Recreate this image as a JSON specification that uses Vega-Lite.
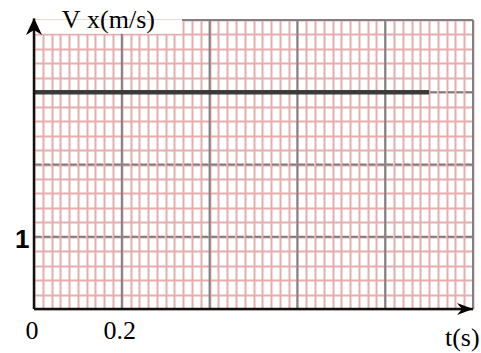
{
  "$schema": "https://vega.github.io/schema/vega-lite/v6.json",
  "width": 439,
  "height": 289,
  "autosize": {"type": "none"},
  "padding": {"left": 34, "top": 20, "right": 8, "bottom": 44},
  "background": "white",
  "config": {"view": {"stroke": null}},
  "datasets": {
    "majorH": [{"t": 0, "t2": 1, "v": 1}, {"t": 0, "t2": 1, "v": 2}, {"t": 0, "t2": 1, "v": 3}],
    "majorV": [
      {"t": 0.2, "v": 0, "v2": 4}, {"t": 0.4, "v": 0, "v2": 4}, {"t": 0.6, "v": 0, "v2": 4},
      {"t": 0.8, "v": 0, "v2": 4}, {"t": 1.0, "v": 0, "v2": 4}
    ],
    "blank": [{"t": 0, "t2": 0.3375, "v": 3.81, "v2": 4}],
    "border": [{"t": 0.3375, "t2": 1, "v": 4}],
    "motion": [{"t": 0, "v": 3}, {"t": 0.9, "v": 3}],
    "axisLines": [{"t": 0, "t2": 1, "v": 0, "v2": 0}, {"t": 0, "t2": 0, "v": 0, "v2": 4.02}],
    "arrows": [{"t": 0, "v": 4, "dir": "up"}, {"t": 1, "v": 0, "dir": "right"}],
    "texts": [
      {"label": "V", "t": 0.063, "v": 3.896, "style": "normal"},
      {"label": "x", "t": 0.121, "v": 3.896, "style": "italic"},
      {"label": "(m/s)", "t": 0.1504, "v": 3.896, "style": "normal"},
      {"label": "t(s)", "t": 0.936, "v": -0.51, "style": "normal"}
    ]
  },
  "encoding": {
    "x": {
      "field": "t", "type": "quantitative",
      "scale": {"domain": [0, 1], "nice": false},
      "axis": {
        "title": null, "tickCount": 50, "grid": true, "gridColor": "#e6adad", "gridWidth": 2, "gridOpacity": 1,
        "domain": false, "ticks": false, "tickSize": 0,
        "labelExpr": "datum.value === 0 ? '0' : (abs(datum.value - 0.2) < 0.001 ? '0.2' : '')",
        "labelOverlap": false, "labelFlush": false, "labelAlign": "center",
        "labelBaseline": "alphabetic", "labelPadding": 29.5, "labelOffset": -2.5,
        "labelFont": "Liberation Serif", "labelFontSize": 26, "labelColor": "#000000"
      }
    },
    "y": {
      "field": "v", "type": "quantitative",
      "scale": {"domain": [0, 4], "nice": false},
      "axis": {
        "title": null, "tickCount": 20, "grid": true, "gridColor": "#e6adad", "gridWidth": 2, "gridOpacity": 1,
        "domain": false, "ticks": false, "tickSize": 0,
        "labelExpr": "abs(datum.value - 1) < 0.001 ? '1' : ''",
        "labelOverlap": false, "labelFlush": false, "labelAlign": "right", "labelBaseline": "alphabetic",
        "labelPadding": 5, "labelOffset": 11,
        "labelFont": "Liberation Sans", "labelFontWeight": "bold", "labelFontSize": 26, "labelColor": "#000000"
      }
    }
  },
  "layer": [
    {
      "data": {"name": "majorH"},
      "mark": {"type": "rule", "color": "#7c7c7c", "strokeWidth": 2, "strokeDash": [6.78, 2], "strokeDashOffset": 7.78},
      "encoding": {"x2": {"field": "t2"}}
    },
    {
      "data": {"name": "majorV"},
      "mark": {"type": "rule", "color": "#808080", "strokeWidth": 2},
      "encoding": {"y2": {"field": "v2"}}
    },
    {
      "data": {"name": "blank"},
      "mark": {"type": "rect", "color": "white", "opacity": 1},
      "encoding": {"x2": {"field": "t2"}, "y2": {"field": "v2"}}
    },
    {
      "data": {"name": "border"},
      "mark": {"type": "rule", "color": "#808080", "strokeWidth": 2},
      "encoding": {"x2": {"field": "t2"}}
    },
    {
      "data": {"name": "motion"},
      "mark": {"type": "line", "color": "#353535", "strokeWidth": 4.5, "opacity": 0.95},
      "encoding": {}
    },
    {
      "data": {"name": "axisLines"},
      "mark": {"type": "rule", "color": "#111111", "strokeWidth": 2.5},
      "encoding": {"x2": {"field": "t2"}, "y2": {"field": "v2"}}
    },
    {
      "data": {"name": "arrows"},
      "mark": {"type": "point", "filled": true, "color": "#000000", "opacity": 1, "size": 4, "strokeWidth": 0},
      "encoding": {
        "shape": {
          "field": "dir", "type": "nominal",
          "scale": {"domain": ["up", "right"], "range": ["M0,-2L8,15L0,10L-8,15Z", "M0,0L-16,-6L-11,0L-16,6Z"]},
          "legend": null
        }
      }
    },
    {
      "data": {"name": "texts"},
      "mark": {"type": "text", "font": "Liberation Serif", "fontSize": 26, "align": "left", "baseline": "alphabetic", "color": "#000000"},
      "encoding": {
        "text": {"field": "label"},
        "fontStyle": {"field": "style", "type": "nominal", "scale": null, "legend": null}
      }
    }
  ]
}
